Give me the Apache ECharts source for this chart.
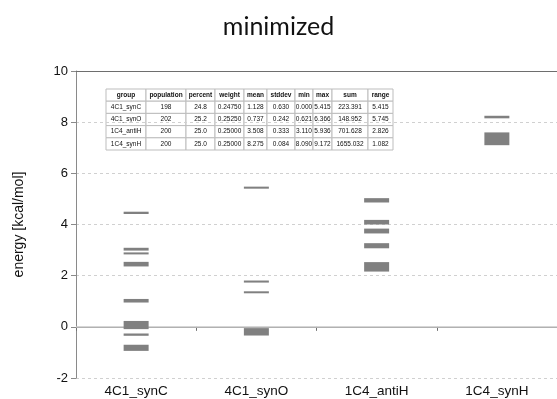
<!DOCTYPE html>
<html>
<head>
<meta charset="utf-8">
<script src="https://cdn.jsdelivr.net/npm/echarts@6/dist/echarts.min.js"></script>
<style>
  html, body { margin: 0; padding: 0; background: #fff; }
  #chart { width: 557px; height: 399px; }
</style>
</head>
<body>
<div id="chart"></div>
<script>
// categories on the x axis
const categories = ['4C1_synC', '4C1_synO', '1C4_antiH', '1C4_synH'];

// each mark is [low, high] energy in kcal/mol (thin lines have a tiny span)
const synCMarks = [[4.41, 4.50], [2.98, 3.09], [2.84, 2.90], [2.36, 2.54], [0.95, 1.09], [-0.09, 0.23], [-0.35, -0.26], [-0.94, -0.70]];
const synOMarks = [[5.40, 5.48], [1.73, 1.81], [1.32, 1.38], [-0.34, -0.05]];
const antiHMarks = [[4.86, 5.03], [4.00, 4.18], [3.65, 3.84], [3.07, 3.27], [2.16, 2.53]];
const synHMarks = [[8.15, 8.25], [7.10, 7.60]];

// summary table in the plot
const tableHeader = ['group', 'population', 'percent', 'weight', 'mean', 'stddev', 'min', 'max', 'sum', 'range'];
const rowSynC = ['4C1_synC', '198', '24.8', '0.24750', '1.128', '0.630', '0.000', '5.415', '223.391', '5.415'];
const rowSynO = ['4C1_synO', '202', '25.2', '0.25250', '0.737', '0.242', '0.621', '6.366', '148.952', '5.745'];
const rowAntiH = ['1C4_antiH', '200', '25.0', '0.25000', '3.508', '0.333', '3.110', '5.936', '701.628', '2.826'];
const rowSynH = ['1C4_synH', '200', '25.0', '0.25000', '8.275', '0.084', '8.090', '9.172', '1655.032', '1.082'];

const markGroups = [synCMarks, synOMarks, antiHMarks, synHMarks];
const markData = [];
markGroups.forEach((marks, i) => {
  marks.forEach(m => markData.push([i, m[0], m[1]]));
});

function renderMark(params, api) {
  const lo = api.coord([api.value(0), api.value(1)]);
  const hi = api.coord([api.value(0), api.value(2)]);
  let h = lo[1] - hi[1];
  let y = hi[1];
  if (h < 2) { y = (lo[1] + hi[1]) / 2 - 1; h = 2; }
  return {
    type: 'rect',
    shape: { x: lo[0] - 12.5, y: y, width: 25, height: h },
    style: { fill: '#808080' }
  };
}

// table drawn with graphic elements
function buildTable() {
  const colEdges = [106, 146, 186, 215, 244, 267, 295, 313, 332, 368, 393];
  const top = 89;
  const rowH = 12.2;
  const rows = [tableHeader, rowSynC, rowSynO, rowAntiH, rowSynH];
  const children = [];
  rows.forEach((row, r) => {
    row.forEach((txt, c) => {
      const x0 = colEdges[c], x1 = colEdges[c + 1];
      const y0 = top + r * rowH;
      children.push({
        type: 'rect',
        shape: { x: x0, y: y0, width: x1 - x0, height: rowH },
        style: { fill: '#fff', stroke: '#bdbdbd', lineWidth: 1 }
      });
      children.push({
        type: 'text',
        style: {
          text: txt,
          x: (x0 + x1) / 2,
          y: y0 + rowH / 2,
          align: 'center',
          verticalAlign: 'middle',
          fontFamily: 'Liberation Sans',
          fontSize: 6.5,
          fontWeight: r === 0 ? 'bold' : 'normal',
          fill: '#111'
        }
      });
    });
  });
  return [{ type: 'group', z: 100, children: children }];
}

const chart = echarts.init(document.getElementById('chart'));
chart.setOption({
  animation: false,
  backgroundColor: '#fff',
  title: {
    text: 'minimized',
    left: 'center',
    top: 9,
    textStyle: { fontFamily: 'Lato', fontWeight: 'normal', fontSize: 25, color: '#111' }
  },
  grid: { left: 76, right: -11, top: 71, bottom: 21 },
  xAxis: {
    type: 'category',
    data: categories,
    axisLine: { lineStyle: { color: '#6e6e6e', width: 1 } },
    axisTick: { show: true, length: 4, lineStyle: { color: '#6e6e6e' } },
    axisLabel: { fontFamily: 'Liberation Sans', fontSize: 13.5, color: '#111', margin: 6 },
    splitLine: { show: false }
  },
  yAxis: {
    type: 'value',
    min: -2,
    max: 10,
    interval: 2,
    name: 'energy [kcal/mol]',
    nameLocation: 'middle',
    nameGap: 50,
    nameTextStyle: { fontFamily: 'Liberation Sans', fontSize: 14, color: '#111' },
    axisLine: { show: true, lineStyle: { color: '#8a8a8a', width: 1 } },
    axisTick: { show: true, length: 5, lineStyle: { color: '#8a8a8a' } },
    axisLabel: { fontFamily: 'Liberation Sans', fontSize: 13, color: '#111', margin: 8 },
    splitLine: { show: true, lineStyle: { color: '#d0d0d0', type: [3, 3], width: 1 } }
  },
  graphic: buildTable(),
  series: [
    {
      type: 'line',
      data: [],
      silent: true,
      markLine: {
        silent: true,
        symbol: 'none',
        label: { show: false },
        data: [
          { yAxis: 0, lineStyle: { color: '#c8c8c8', type: 'solid', width: 1.5 } },
          { yAxis: 10, lineStyle: { color: '#6e6e6e', type: 'solid', width: 1 } }
        ]
      }
    },
    {
      type: 'custom',
      renderItem: renderMark,
      encode: { x: 0, y: [1, 2] },
      data: markData,
      z: 5
    }
  ]
});
</script>
</body>
</html>
